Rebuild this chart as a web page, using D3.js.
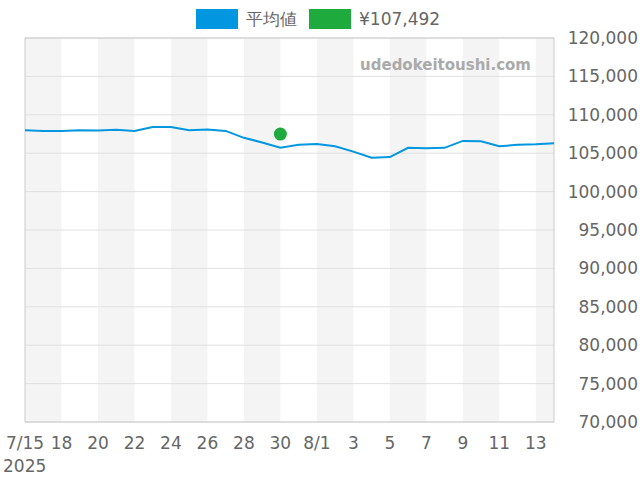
<!DOCTYPE html>
<html><head><meta charset="utf-8">
<script src="https://cdn.jsdelivr.net/npm/d3@7"></script>
<style>body{margin:0;background:#fff}text{font-family:"DejaVu Sans",sans-serif}</style>
</head><body><svg id="c" width="640" height="480"></svg>
<script>
var dates = ["2025-07-16","2025-07-17","2025-07-18","2025-07-19","2025-07-20","2025-07-21","2025-07-22","2025-07-23","2025-07-24","2025-07-25","2025-07-26","2025-07-27","2025-07-28","2025-07-29","2025-07-30","2025-07-31","2025-08-01","2025-08-02","2025-08-03","2025-08-04","2025-08-05","2025-08-06","2025-08-07","2025-08-08","2025-08-09","2025-08-10","2025-08-11","2025-08-12","2025-08-13","2025-08-14"];
var avgPrices = [108000,107900,107900,108000,107950,108050,107900,108400,108400,108000,108100,107900,107000,106400,105700,106100,106200,105900,105200,104400,104500,105700,105650,105700,106600,106550,105900,106100,106150,106300];
var pointDate = "2025-07-30", pointPrice = 107492;
var tickDates = ["2025-07-16","2025-07-18","2025-07-20","2025-07-22","2025-07-24","2025-07-26","2025-07-28","2025-07-30","2025-08-01","2025-08-03","2025-08-05","2025-08-07","2025-08-09","2025-08-11","2025-08-13"];
var tickLabels = ["7/15","18","20","22","24","26","28","30","8/1","3","5","7","9","11","13"];
var yTicks = [70000,75000,80000,85000,90000,95000,100000,105000,110000,115000,120000];

var parse = d3.utcParse("%Y-%m-%d");
var svg = d3.select("#c");
var L=25,R=554,T=38,B=422;
var x = d3.scaleUtc().domain([parse(dates[0]), parse(dates[dates.length-1])]).range([L,R]);
var y = d3.scaleLinear().domain([70000,120000]).range([B,T]);

// shaded bands, every other 2-day block
var bands = tickDates.filter(function(d,i){return i%2==0;});
svg.selectAll("rect.band").data(bands).enter().append("rect")
  .attr("x", function(d){return x(parse(d));})
  .attr("width", function(d){return Math.min(x(d3.utcDay.offset(parse(d),2)),R)-x(parse(d));})
  .attr("y",T).attr("height",B-T).attr("fill","#f4f4f4");

svg.selectAll("line.grid").data(yTicks).enter().append("line")
  .attr("x1",L).attr("x2",R).attr("y1",function(d){return y(d);}).attr("y2",function(d){return y(d);})
  .attr("stroke","#e0e0e0");
svg.append("rect").attr("x",L).attr("y",T).attr("width",R-L).attr("height",B-T)
  .attr("fill","none").attr("stroke","#ccc");

svg.selectAll("text.yl").data(yTicks).enter().append("text")
  .attr("x",638).attr("y",function(d){return y(d)+6;}).attr("text-anchor","end")
  .attr("font-size",17).attr("fill","#666").text(d3.format(","));

svg.selectAll("text.xl").data(tickDates).enter().append("text")
  .attr("x",function(d){return x(parse(d));}).attr("y",449).attr("text-anchor","middle")
  .attr("font-size",17).attr("fill","#666").text(function(d,i){return tickLabels[i];});
svg.append("text").attr("x",3).attr("y",472).attr("font-size",17).attr("fill","#666").text("2025");

svg.append("path").datum(avgPrices)
  .attr("d", d3.line().x(function(d,i){return x(parse(dates[i]));}).y(function(d){return y(d);}))
  .attr("fill","none").attr("stroke","#0096e0").attr("stroke-width",2);

svg.append("circle").attr("cx",x(parse(pointDate))).attr("cy",y(pointPrice)).attr("r",6.5).attr("fill","#1eaa3c");

svg.append("text").attr("x",531).attr("y",70).attr("text-anchor","end").attr("font-size",15)
  .attr("font-weight","bold").attr("fill","#aaa").text("udedokeitoushi.com");

// legend
svg.append("rect").attr("x",196).attr("y",9).attr("width",42).attr("height",20).attr("fill","#0096e0");
svg.append("text").attr("x",246).attr("y",25).attr("font-size",17).attr("fill","#666").text("平均値");
svg.append("rect").attr("x",309).attr("y",9).attr("width",42).attr("height",20).attr("fill","#1eaa3c");
svg.append("text").attr("x",359).attr("y",25).attr("font-size",17).attr("fill","#666").text("¥107,492");
</script></body></html>
